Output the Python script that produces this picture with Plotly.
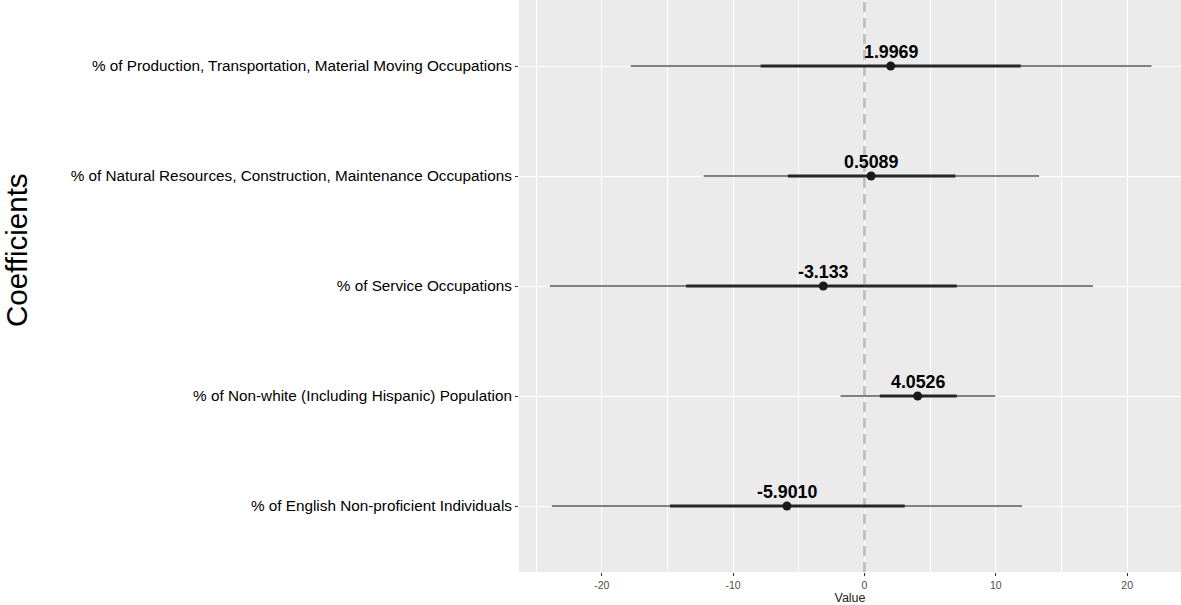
import plotly.graph_objects as go

# ---- data ----
categories = [
    "% of English Non-proficient Individuals",
    "% of Non-white (Including Hispanic) Population",
    "% of Service Occupations",
    "% of Natural Resources, Construction, Maintenance Occupations",
    "% of Production, Transportation, Material Moving Occupations",
]
estimates = [-5.9010, 4.0526, -3.133, 0.5089, 1.9969]
labels = ["-5.9010", "4.0526", "-3.133", "0.5089", "1.9969"]
inner_low = [-14.8, 1.17, -13.58, -5.83, -7.9]
inner_high = [3.07, 7.03, 7.03, 6.92, 11.9]
outer_low = [-23.8, -1.82, -23.95, -12.24, -17.8]
outer_high = [12.0, 9.96, 17.4, 13.3, 21.85]
x_ticks = [-20, -10, 0, 10, 20]
reference_value = 0

ypos = list(range(1, len(categories) + 1))
y_range = [0.4, len(categories) + 0.6]


def segs(lo, hi):
    xs, ys = [], []
    for a, b, y in zip(lo, hi, ypos):
        xs += [a, b, None]
        ys += [y, y, None]
    return xs, ys


fig = go.Figure()

# zero reference line (drawn first so intervals sit on top)
fig.add_trace(go.Scatter(x=[reference_value, reference_value], y=y_range, mode="lines",
                         line=dict(color="#bdbdbd", width=2.6, dash="10px,6px"),
                         hoverinfo="skip", showlegend=False))

ox, oy = segs(outer_low, outer_high)
fig.add_trace(go.Scatter(x=ox, y=oy, mode="lines",
                         line=dict(color="#5a5a5a", width=1.3),
                         hoverinfo="skip", showlegend=False))
ix, iy = segs(inner_low, inner_high)
fig.add_trace(go.Scatter(x=ix, y=iy, mode="lines",
                         line=dict(color="#262626", width=3),
                         hoverinfo="skip", showlegend=False))
fig.add_trace(go.Scatter(x=estimates, y=ypos, mode="markers",
                         marker=dict(color="#1a1a1a", size=9),
                         showlegend=False))

for xv, yv, t in zip(estimates, ypos, labels):
    fig.add_annotation(x=xv, y=yv, text=f"<b>{t}</b>", showarrow=False,
                       yshift=14, xanchor="center", yanchor="middle",
                       font=dict(family="Liberation Sans, Arial", size=17.8, color="black"))

# y-axis title
fig.add_annotation(xref="paper", yref="paper", x=0, y=0.5, xshift=-503, yshift=36,
                   text="Coefficients", textangle=-90, showarrow=False,
                   xanchor="center", yanchor="middle",
                   font=dict(family="Liberation Sans, Arial", size=29.5, color="black"))

fig.update_layout(
    width=1181, height=605,
    margin=dict(l=519, r=0, t=0, b=33),
    paper_bgcolor="white",
    plot_bgcolor="#EBEBEB",
    font=dict(family="Liberation Sans, Arial"),
)
fig.update_xaxes(
    range=[-26.3, 24.1],
    tickvals=x_ticks, ticktext=[str(v) for v in x_ticks],
    showgrid=True, gridcolor="white", gridwidth=1.2,
    minor=dict(dtick=10, tick0=5, showgrid=True, gridcolor="white", gridwidth=0.6),
    zeroline=False,
    ticks="outside", ticklen=3, tickcolor="#333333", tickwidth=1,
    tickfont=dict(size=10.5, color="#4d4d4d"),
    title=dict(text="Value", font=dict(size=12.5, color="#222222"), standoff=0),
    showline=False,
)
fig.update_yaxes(
    range=y_range,
    tickvals=ypos, ticktext=categories,
    showgrid=True, gridcolor="white", gridwidth=1.2,
    zeroline=False,
    ticks="outside", ticklen=3, tickcolor="#333333", tickwidth=1,
    tickfont=dict(size=15.3, color="black"),
    showline=False,
)

fig.write_html(
    "out.html",
    config={"displayModeBar": False},
    post_script="document.body.style.margin='0';document.body.style.overflow='hidden';",
)
